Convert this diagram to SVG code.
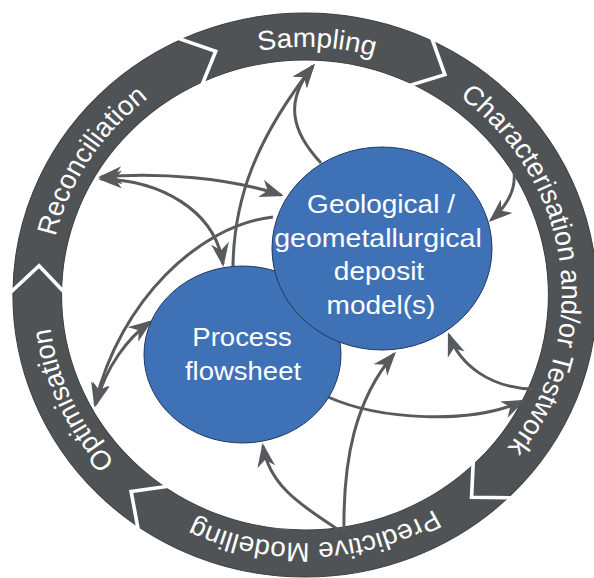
<svg xmlns="http://www.w3.org/2000/svg" xmlns:xlink="http://www.w3.org/1999/xlink" width="594" height="578" viewBox="0 0 594 578">
<style>
.ring{fill:#505355;stroke:#3d4042;stroke-width:1;fill-rule:evenodd}
.chev{fill:none;stroke:#ffffff;stroke-width:3.5;stroke-linejoin:miter}
.rt{font-family:"Liberation Sans",Arial,sans-serif;font-size:27px;fill:#ffffff}
.node{fill:#3f71b7;stroke:#22385e;stroke-width:1}
.nt{font-family:"Liberation Sans",Arial,sans-serif;font-size:25px;fill:#ffffff;text-anchor:middle}
.c{fill:none;stroke:#585b5d;stroke-width:3}
.e{marker-end:url(#ah)}
.b{marker-start:url(#ah);marker-end:url(#ah)}
</style>
<defs>
<marker id="ah" viewBox="0 0 24 18" refX="21" refY="9" markerWidth="24" markerHeight="18" markerUnits="userSpaceOnUse" orient="auto-start-reverse">
<path d="M24,9 L0,0 L7,9 L0,18 Z" fill="#585b5d"/>
</marker>
<polyline id="chevron" class="chev" points="0,-287 29.3,-256.8 0,-230"/>
<path id="tp" d="M0,-248 A248,248 0 1,1 0,248 A248,248 0 1,1 0,-248 A248,248 0 1,1 0,248 A248,248 0 1,1 0,-248"/>
</defs>
<g id="cycle" transform="translate(305,295) scale(1.0355,1)">
<path class="ring" d="M0,-282 A282,282 0 1,1 0,282 A282,282 0 1,1 0,-282 Z M0,-235 A235,235 0 1,0 0,235 A235,235 0 1,0 0,-235 Z"/>
<use xlink:href="#chevron" transform="rotate(-26)"/>
<use xlink:href="#chevron" transform="rotate(25)"/>
<use xlink:href="#chevron" transform="rotate(135)"/>
<use xlink:href="#chevron" transform="rotate(214)"/>
<use xlink:href="#chevron" transform="rotate(270)"/>
<g id="sampling"><text class="rt"><textPath xlink:href="#tp" startOffset="1569" text-anchor="middle">Sampling</textPath></text></g>
<g id="characterisation"><text class="rt"><textPath xlink:href="#tp" startOffset="357" text-anchor="middle">Characterisation and/or Testwork</textPath></text></g>
<g id="predictive"><text class="rt"><textPath xlink:href="#tp" startOffset="769" text-anchor="middle">Predictive Modelling</textPath></text></g>
<g id="optimisation"><text class="rt"><textPath xlink:href="#tp" startOffset="1060" text-anchor="middle">Optimisation</textPath></text></g>
<g id="reconciliation"><text class="rt"><textPath xlink:href="#tp" startOffset="1311" text-anchor="middle">Reconciliation</textPath></text></g>
</g>
<g id="connectors">
<path class="c e" d="M321,163 C290,130 285,100 313,66"/>
<path class="c e" d="M233,266 C234,200 255,140 313,66"/>
<path class="c b" d="M101,177 C160,172 230,178 281,195"/>
<path class="c b" d="M101,179 C160,180 215,210 223,264"/>
<path class="c e" d="M273,217 C200,225 120,300 95,404"/>
<path class="c b" d="M150,322 C128,338 106,366 96,404"/>
<path class="c e" d="M514,172 C516,190 508,205 491,220"/>
<path class="c e" d="M533,389 C490,388 460,365 449,335"/>
<path class="c e" d="M328,397 C380,420 470,425 523,401"/>
<path class="c e" d="M344,531 C343,460 355,400 394,354"/>
<path class="c e" d="M340,531 C310,510 270,490 263,446"/>
</g>
<g id="process">
<ellipse class="node" cx="242.5" cy="354.5" rx="98.5" ry="88.5"/>
<text class="nt" transform="translate(242,346) scale(1.1,1)">Process</text>
<text class="nt" transform="translate(243,380) scale(1.1,1)">flowsheet</text>
</g>
<g id="deposit">
<ellipse class="node" cx="382" cy="248.5" rx="110" ry="101.5"/>
<text class="nt" transform="translate(381,213) scale(1.12,1)">Geological /</text>
<text class="nt" transform="translate(378,247) scale(1.14,1)">geometallurgical</text>
<text class="nt" transform="translate(379,280) scale(1.12,1)">deposit</text>
<text class="nt" transform="translate(381,314) scale(1.12,1)">model(s)</text>
</g>
</svg>
